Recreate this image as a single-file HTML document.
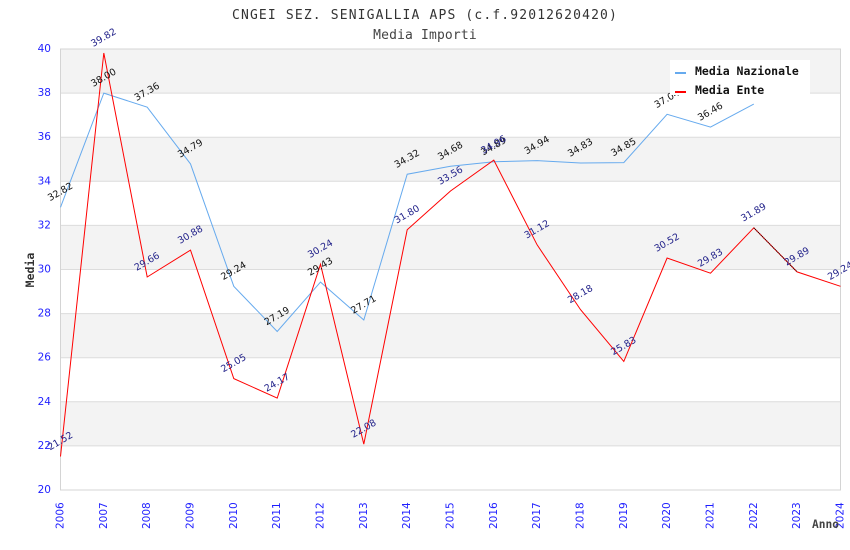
<!DOCTYPE html>
<html><head><meta charset="utf-8"><style>
html,body{margin:0;padding:0;background:#fff;}
svg{display:block;}
.t{font-family:"DejaVu Sans Mono","Liberation Mono",monospace;}
.yl{font-family:"DejaVu Sans","Liberation Sans",sans-serif;font-size:10.5px;fill:#1f1fff;}
.n{font-family:"DejaVu Sans","Liberation Sans",sans-serif;font-size:9.5px;fill:#111;}
.e{font-family:"DejaVu Sans","Liberation Sans",sans-serif;font-size:9.5px;fill:#22228a;}
</style></head><body>
<svg width="850" height="550" viewBox="0 0 850 550" xmlns="http://www.w3.org/2000/svg">
<rect width="850" height="550" fill="#fff"/>
<text class="t" x="425" y="19" text-anchor="middle" font-size="13" letter-spacing="1.15" fill="#333">CNGEI SEZ. SENIGALLIA APS (c.f.92012620420)</text>
<text class="t" x="425" y="39" text-anchor="middle" font-size="13" letter-spacing="0.15" fill="#444">Media Importi</text>

<!-- bands -->
<g fill="#f3f3f3">
<rect x="60.5" y="49" width="780" height="44.1"/>
<rect x="60.5" y="137.2" width="780" height="44.1"/>
<rect x="60.5" y="225.4" width="780" height="44.1"/>
<rect x="60.5" y="313.6" width="780" height="44.1"/>
<rect x="60.5" y="401.8" width="780" height="44.1"/>
</g>
<g stroke="#dcdcdc" stroke-width="1">
<line x1="60.5" x2="840.5" y1="93.1" y2="93.1"/>
<line x1="60.5" x2="840.5" y1="137.2" y2="137.2"/>
<line x1="60.5" x2="840.5" y1="181.3" y2="181.3"/>
<line x1="60.5" x2="840.5" y1="225.4" y2="225.4"/>
<line x1="60.5" x2="840.5" y1="269.5" y2="269.5"/>
<line x1="60.5" x2="840.5" y1="313.6" y2="313.6"/>
<line x1="60.5" x2="840.5" y1="357.7" y2="357.7"/>
<line x1="60.5" x2="840.5" y1="401.8" y2="401.8"/>
<line x1="60.5" x2="840.5" y1="445.9" y2="445.9"/>
</g>
<rect x="60.5" y="49" width="780" height="441" fill="none" stroke="#d4d4d4" stroke-width="1"/>

<!-- y tick labels -->
<g class="yl" text-anchor="end" dominant-baseline="central">
<text x="51" y="49">40</text>
<text x="51" y="93.1">38</text>
<text x="51" y="137.2">36</text>
<text x="51" y="181.3">34</text>
<text x="51" y="225.4">32</text>
<text x="51" y="269.5">30</text>
<text x="51" y="313.6">28</text>
<text x="51" y="357.7">26</text>
<text x="51" y="401.8">24</text>
<text x="51" y="445.9">22</text>
<text x="51" y="490">20</text>
</g>

<!-- x tick labels -->
<g class="yl" text-anchor="start" dominant-baseline="central">
<text transform="translate(60.5,529) rotate(-90)">2006</text>
<text transform="translate(103.8,529) rotate(-90)">2007</text>
<text transform="translate(147.2,529) rotate(-90)">2008</text>
<text transform="translate(190.5,529) rotate(-90)">2009</text>
<text transform="translate(233.8,529) rotate(-90)">2010</text>
<text transform="translate(277.2,529) rotate(-90)">2011</text>
<text transform="translate(320.5,529) rotate(-90)">2012</text>
<text transform="translate(363.8,529) rotate(-90)">2013</text>
<text transform="translate(407.2,529) rotate(-90)">2014</text>
<text transform="translate(450.5,529) rotate(-90)">2015</text>
<text transform="translate(493.8,529) rotate(-90)">2016</text>
<text transform="translate(537.1,529) rotate(-90)">2017</text>
<text transform="translate(580.5,529) rotate(-90)">2018</text>
<text transform="translate(623.8,529) rotate(-90)">2019</text>
<text transform="translate(667.1,529) rotate(-90)">2020</text>
<text transform="translate(710.5,529) rotate(-90)">2021</text>
<text transform="translate(753.8,529) rotate(-90)">2022</text>
<text transform="translate(797.1,529) rotate(-90)">2023</text>
<text transform="translate(840.5,529) rotate(-90)">2024</text>
</g>

<text class="t" x="812" y="528" font-size="11.2" font-weight="bold" fill="#444">Anno</text>
<text class="t" transform="translate(34,270) rotate(-90)" text-anchor="middle" font-size="11.5" font-weight="bold" fill="#333">Media</text>

<!-- series -->
<polyline fill="none" stroke="#66aaee" stroke-width="1" points="60.5,207.3 103.8,93.1 147.2,107.2 190.5,163.9 233.8,286.3 277.2,331.5 320.5,282.1 363.8,320.0 407.2,174.2 450.5,166.3 493.8,161.7 537.1,160.6 580.5,163.0 623.8,162.6 667.1,114.3 710.5,127.1 753.8,104.1"/>
<polyline fill="none" stroke="#ff0000" stroke-width="1" points="60.5,456.5 103.8,53.0 147.2,277.0 190.5,250.1 233.8,378.6 277.2,398.1 320.5,264.2 363.8,444.1 407.2,229.8 450.5,191.0 493.8,160.1 537.1,244.8 580.5,309.6 623.8,361.4 667.1,258.0 710.5,273.2 753.8,227.8 797.1,271.9 840.5,286.3"/>
<line x1="753.8" y1="227.8" x2="797.1" y2="271.9" stroke="#000" stroke-width="1" stroke-dasharray="1,1"/>

<!-- Nazionale labels -->
<g class="n" text-anchor="middle" dominant-baseline="central">
<text transform="translate(60.5,192.3) rotate(-30)">32.82</text>
<text transform="translate(103.8,78.1) rotate(-30)">38.00</text>
<text transform="translate(147.2,92.2) rotate(-30)">37.36</text>
<text transform="translate(190.5,148.9) rotate(-30)">34.79</text>
<text transform="translate(233.8,271.3) rotate(-30)">29.24</text>
<text transform="translate(277.2,316.5) rotate(-30)">27.19</text>
<text transform="translate(320.5,267.1) rotate(-30)">29.43</text>
<text transform="translate(363.8,305.0) rotate(-30)">27.71</text>
<text transform="translate(407.2,159.2) rotate(-30)">34.32</text>
<text transform="translate(450.5,151.3) rotate(-30)">34.68</text>
<text transform="translate(493.8,146.7) rotate(-30)">34.89</text>
<text transform="translate(537.1,145.6) rotate(-30)">34.94</text>
<text transform="translate(580.5,148.0) rotate(-30)">34.83</text>
<text transform="translate(623.8,147.6) rotate(-30)">34.85</text>
<text transform="translate(667.1,99.3) rotate(-30)">37.04</text>
<text transform="translate(710.5,112.1) rotate(-30)">36.46</text>
</g>

<!-- Ente labels -->
<g class="e" text-anchor="middle" dominant-baseline="central">
<text transform="translate(60.5,441.5) rotate(-30)">21.52</text>
<text transform="translate(103.8,38.0) rotate(-30)">39.82</text>
<text transform="translate(147.2,262.0) rotate(-30)">29.66</text>
<text transform="translate(190.5,235.1) rotate(-30)">30.88</text>
<text transform="translate(233.8,363.6) rotate(-30)">25.05</text>
<text transform="translate(277.2,383.1) rotate(-30)">24.17</text>
<text transform="translate(320.5,249.2) rotate(-30)">30.24</text>
<text transform="translate(363.8,429.1) rotate(-30)">22.08</text>
<text transform="translate(407.2,214.8) rotate(-30)">31.80</text>
<text transform="translate(450.5,176.0) rotate(-30)">33.56</text>
<text transform="translate(493.8,145.1) rotate(-30)">34.96</text>
<text transform="translate(537.1,229.8) rotate(-30)">31.12</text>
<text transform="translate(580.5,294.6) rotate(-30)">28.18</text>
<text transform="translate(623.8,346.4) rotate(-30)">25.83</text>
<text transform="translate(667.1,243.0) rotate(-30)">30.52</text>
<text transform="translate(710.5,258.2) rotate(-30)">29.83</text>
<text transform="translate(753.8,212.8) rotate(-30)">31.89</text>
<text transform="translate(797.1,256.9) rotate(-30)">29.89</text>
<text transform="translate(840.5,271.3) rotate(-30)">29.24</text>
</g>

<!-- legend -->
<rect x="670" y="60" width="140" height="35" fill="#fff"/>
<line x1="675" y1="73" x2="686" y2="73" stroke="#66aaee" stroke-width="2"/>
<line x1="675" y1="92" x2="686" y2="92" stroke="#ff0000" stroke-width="2"/>
<text class="t" x="695" y="75" font-size="11.5" font-weight="bold" fill="#111">Media Nazionale</text>
<text class="t" x="695" y="94" font-size="11.5" font-weight="bold" fill="#111">Media Ente</text>
</svg>
</body></html>
